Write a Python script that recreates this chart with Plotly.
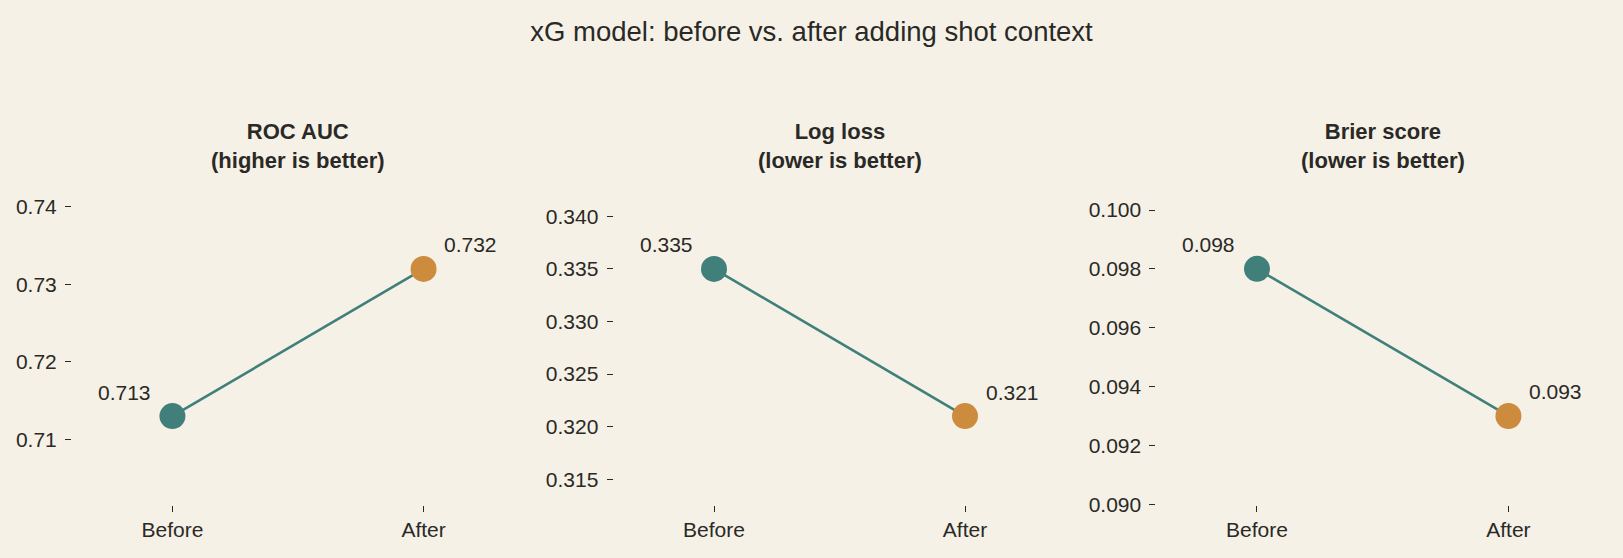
import plotly.graph_objects as go

# ---- data ----
stages = ["Before", "After"]
metric_names = ["ROC AUC", "Log loss", "Brier score"]
metric_notes = ["(higher is better)", "(lower is better)", "(lower is better)"]
roc_auc = [0.713, 0.732]
log_loss = [0.335, 0.321]
brier = [0.098, 0.093]
tick_steps = [0.01, 0.005, 0.002]
tick_formats = [".2f", ".3f", ".3f"]
chart_title = "xG model: before vs. after adding shot context"

series = [roc_auc, log_loss, brier]

# ---- style ----
W, H = 1623, 558
BG = "#f5f1e7"
TEXT = "#2a2925"
TEAL = "#41807a"
ORANGE = "#cd8b3e"
FONT = "Liberation Sans"

x_domains_px = [(72, 524), (613.6, 1065.4), (1156.4, 1609)]
y_domain = [1 - 504.5 / H, 1 - 180.6 / H]

fig = go.Figure()

for i, vals in enumerate(series):
    n = "" if i == 0 else str(i + 1)
    xa, ya = "x" + n, "y" + n
    fig.add_trace(go.Scatter(
        x=stages, y=vals, xaxis=xa, yaxis=ya,
        mode="lines+markers",
        line=dict(color=TEAL, width=2.6),
        marker=dict(size=26, color=[TEAL, ORANGE], line=dict(width=0)),
        showlegend=False, hoverinfo="skip",
    ))
    lo, hi = min(vals), max(vals)
    pad = 0.6 * (hi - lo)
    dx0, dx1 = x_domains_px[i]
    fig.update_layout({
        "xaxis" + n: dict(
            domain=[dx0 / W, dx1 / W], anchor=ya, type="category",
            categoryorder="array", categoryarray=stages,
            range=[-0.4, 1.4], showgrid=False, zeroline=False, showline=False,
            ticks="outside", ticklen=6, tickwidth=1.3, tickcolor=TEXT,
            tickfont=dict(family=FONT, size=21, color=TEXT),
            automargin=False,
        ),
        "yaxis" + n: dict(
            domain=y_domain, anchor=xa,
            range=[lo - pad - 1e-5, hi + pad],
            dtick=tick_steps[i], tick0=0, tickformat=tick_formats[i],
            showgrid=False, zeroline=False, showline=False,
            ticks="outside", ticklen=6, tickwidth=1.3, tickcolor=TEXT,
            tickfont=dict(family=FONT, size=21, color=TEXT),
            ticklabelstandoff=4,
            automargin=False,
        ),
    })
    # value labels
    for j, v in enumerate(vals):
        fig.add_annotation(
            x=stages[j], y=v, xref=xa, yref=ya,
            text=f"{v:.3f}", showarrow=False,
            xshift=-48 if j == 0 else 47, yshift=24,
            font=dict(family=FONT, size=21, color=TEXT),
        )
    # panel titles
    fig.add_annotation(
        x=0.5, xref=xa + " domain", y=1 - 146 / H, yref="paper",
        text=f"<b>{metric_names[i]}</b><br><b>{metric_notes[i]}</b>",
        showarrow=False, xanchor="center", yanchor="middle",
        font=dict(family=FONT, size=22, color=TEXT),
    )

fig.update_layout(
    width=W, height=H,
    margin=dict(l=0, r=0, t=0, b=0, autoexpand=False),
    paper_bgcolor=BG, plot_bgcolor=BG,
    title=dict(text=chart_title, x=0.5, xref="paper", xanchor="center",
               y=1 - 31 / H, yref="container", yanchor="middle",
               font=dict(family=FONT, size=27.5, color=TEXT)),
    font=dict(family=FONT, color=TEXT),
)

fig.write_html(
    "out.html",
    config={"displayModeBar": False},
    post_script="document.body.style.margin='0';document.body.style.overflow='hidden';",
)
